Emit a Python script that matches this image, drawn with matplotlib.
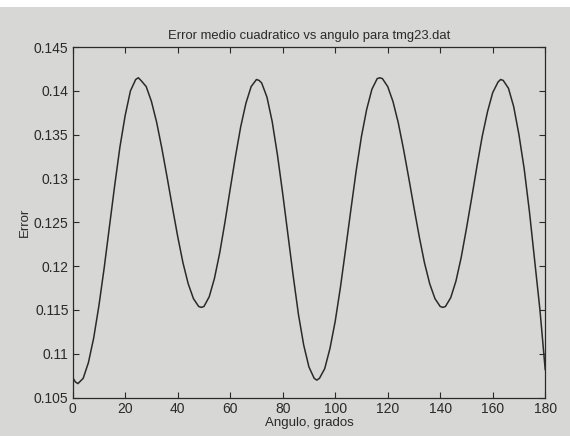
import matplotlib.pyplot as plt
from matplotlib.patches import Rectangle

# angle (degrees) and error values
angulo = [0, 1, 2, 4, 6, 8, 10, 12, 14, 16, 18, 20, 22, 24, 25, 26,
          28, 30, 32, 34, 36, 38, 40, 42, 44, 46, 48, 49,
          50, 52, 54, 56, 58, 60, 62, 64, 66, 68, 70, 71,
          72, 74, 76, 78, 80, 82, 84, 86, 88, 90, 92, 93,
          94, 96, 98, 100, 102, 104, 106, 108, 110, 112, 114, 116, 117,
          118, 120, 122, 124, 126, 128, 130, 132, 134, 136, 138, 140, 141,
          142, 144, 146, 148, 150, 152, 154, 156, 158, 160, 162, 163, 164,
          166, 168, 170, 172, 174, 176, 178, 180]
error = [0.1073, 0.1068, 0.1066, 0.1072, 0.1090, 0.1118, 0.1155, 0.1198, 0.1245, 0.1292, 0.1336, 0.1372, 0.1400, 0.1413, 0.1415, 0.1412,
         0.1405, 0.1388, 0.1364, 0.1334, 0.1301, 0.1267, 0.1234, 0.1204, 0.1180, 0.1163, 0.1154, 0.1153,
         0.1154, 0.1165, 0.1186, 0.1215, 0.1250, 0.1288, 0.1325, 0.1359, 0.1386, 0.1405, 0.1413, 0.1412,
         0.1409, 0.1393, 0.1365, 0.1327, 0.1283, 0.1236, 0.1189, 0.1145, 0.1110, 0.1085, 0.1072, 0.1070,
         0.1072, 0.1083, 0.1106, 0.1137, 0.1176, 0.1220, 0.1265, 0.1309, 0.1348, 0.1379, 0.1402, 0.1414, 0.1415,
         0.1414, 0.1405, 0.1388, 0.1364, 0.1334, 0.1301, 0.1267, 0.1234, 0.1204, 0.1180, 0.1163, 0.1154, 0.1153,
         0.1154, 0.1164, 0.1183, 0.1210, 0.1243, 0.1278, 0.1314, 0.1348, 0.1376, 0.1398, 0.1410, 0.1413, 0.1412,
         0.1403, 0.1382, 0.1350, 0.1311, 0.1262, 0.1206, 0.1150, 0.1082]

xticks = [0, 20, 40, 60, 80, 100, 120, 140, 160, 180]
yticks = [0.105, 0.11, 0.115, 0.12, 0.125, 0.13, 0.135, 0.14, 0.145]
ytick_labels = ['0.105', '0.11', '0.115', '0.12', '0.125', '0.13', '0.135', '0.14', '0.145']

paper = '#d7d7d5'
ink = '#2a2a2a'

plt.rcParams['font.family'] = ['Liberation Sans', 'DejaVu Sans']

fig = plt.figure(figsize=(5.7, 4.36), dpi=100, facecolor=paper)
# white strip at the very top of the photographed page
fig.patches.append(Rectangle((0, 0.984), 1, 0.016, transform=fig.transFigure,
                             facecolor='white', edgecolor='none', zorder=-1))
ax = fig.add_axes([0.1275, 0.088, 0.829, 0.804])
ax.set_facecolor(paper)

ax.plot(angulo, error, color=ink, lw=1.1)

ax.set_xlim(0, 180)
ax.set_ylim(0.105, 0.145)
ax.set_xticks(xticks)
ax.set_yticks(yticks)
ax.set_yticklabels(ytick_labels)
ax.tick_params(direction='in', top=True, right=True, length=4, width=0.8,
               labelsize=10, colors=ink, pad=3)
for s in ax.spines.values():
    s.set_color(ink)
    s.set_linewidth(0.9)

ax.set_title('Error medio cuadratico vs angulo para tmg23.dat', fontsize=9.4, color=ink, pad=6)
ax.set_xlabel('Angulo, grados', fontsize=9.5, color=ink, labelpad=1)
ax.set_ylabel('Error', fontsize=9.5, color=ink, labelpad=2)

fig.savefig('out.png', dpi=100, facecolor=paper)
